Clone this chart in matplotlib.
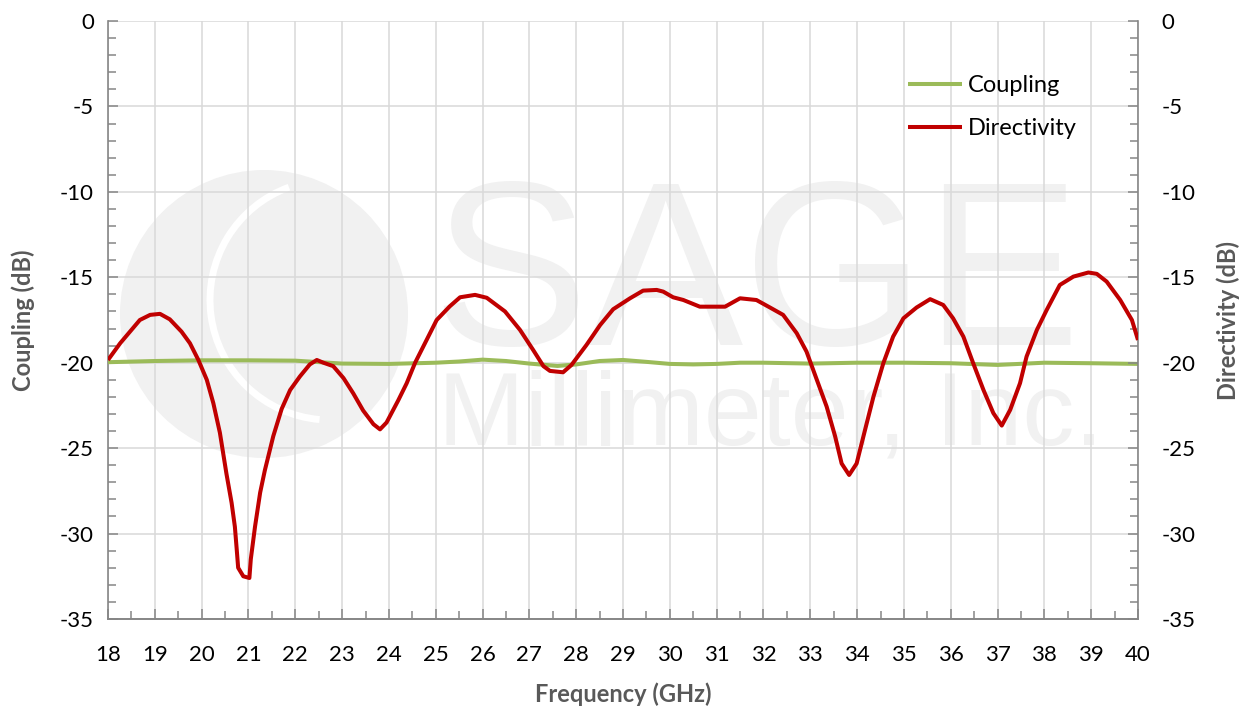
import matplotlib.pyplot as plt
from matplotlib.patches import Ellipse, Arc
from matplotlib.ticker import MultipleLocator

# Directivity trace (GHz, dB)
freq_dir = [18.0, 18.26, 18.47, 18.68, 18.9, 19.11, 19.32, 19.57, 19.75, 19.93,
            20.11, 20.25, 20.39, 20.53, 20.64, 20.71, 20.75, 20.78, 20.89, 21.02,
            21.05, 21.14, 21.25, 21.35, 21.53, 21.71, 21.89, 22.1, 22.31, 22.46,
            22.6, 22.81, 23.03, 23.24, 23.45, 23.67, 23.81, 23.95, 24.2, 24.38,
            24.56, 24.77, 25.02, 25.3, 25.52, 25.84, 26.09, 26.48, 26.8, 27.08,
            27.3, 27.44, 27.72, 27.9, 28.22, 28.51, 28.79, 29.15, 29.43, 29.72,
            29.86, 30.07, 30.29, 30.64, 31.18, 31.5, 31.85, 32.14, 32.42, 32.71,
            32.92, 33.14, 33.35, 33.53, 33.67, 33.83, 33.99, 34.17, 34.35, 34.56,
            34.77, 34.99, 35.27, 35.56, 35.84, 36.05, 36.27, 36.48, 36.7, 36.91,
            37.09, 37.27, 37.48, 37.62, 37.84, 38.05, 38.33, 38.62, 38.94, 39.12,
            39.33, 39.62, 39.87, 40.0]
directivity = [-19.84, -18.86, -18.18, -17.5, -17.2, -17.14, -17.46, -18.18,
               -18.86, -19.84, -21.0, -22.37, -24.1, -26.5, -28.2, -29.6, -30.95,
               -32.0, -32.5, -32.6, -31.5, -29.6, -27.6, -26.3, -24.3, -22.7,
               -21.6, -20.8, -20.1, -19.84, -20.0, -20.2, -20.9, -21.8, -22.8,
               -23.6, -23.9, -23.5, -22.2, -21.2, -20.0, -18.86, -17.5, -16.7,
               -16.17, -16.03, -16.2, -17.0, -18.08, -19.25, -20.2, -20.48,
               -20.56, -20.13, -18.96, -17.8, -16.87, -16.23, -15.78, -15.74,
               -15.84, -16.17, -16.33, -16.72, -16.72, -16.23, -16.33, -16.77,
               -17.2, -18.27, -19.35, -21.0, -22.57, -24.3, -25.9, -26.57, -25.9,
               -23.93, -21.98, -20.03, -18.47, -17.4, -16.77, -16.28, -16.62,
               -17.4, -18.47, -20.03, -21.6, -22.95, -23.68, -22.76, -21.2,
               -19.64, -18.08, -16.91, -15.45, -14.96, -14.72, -14.8, -15.25,
               -16.33, -17.5, -18.67]

# Coupling trace
freq_cpl = [18, 19, 20, 21, 22, 23, 24, 25, 25.5, 26, 26.5, 27, 27.6, 28, 28.5,
            29, 29.5, 30, 30.5, 31, 31.5, 32, 33, 34, 35, 36, 37, 38, 39, 40]
coupling = [-19.97, -19.9, -19.86, -19.86, -19.88, -20.05, -20.07, -20.0,
            -19.93, -19.82, -19.9, -20.05, -20.19, -20.1, -19.9, -19.84, -19.95,
            -20.07, -20.1, -20.07, -20.0, -20.0, -20.05, -20.0, -20.0, -20.03,
            -20.13, -20.0, -20.03, -20.07]

GREEN = "#9BBB59"
RED = "#C00000"
GRAY = "#595959"
GRID = "#D9D9D9"
SPINE = "#868686"
WM = "#F1F1F1"

plt.rcParams['font.family'] = ['Lato', 'DejaVu Sans']
plt.rcParams['axes.unicode_minus'] = False

W, H = 1248, 709
fig = plt.figure(figsize=(W / 100, H / 100), dpi=100)

# background layer for the faint company watermark (pixel coordinates)
bg = fig.add_axes([0, 0, 1, 1], zorder=0)
bg.set_xlim(0, W)
bg.set_ylim(H, 0)
bg.axis("off")
bg.add_patch(Ellipse((264, 314), 288, 288, facecolor=WM, edgecolor="none"))
bg.add_patch(Arc((330, 300), 240, 240, theta1=95, theta2=250,
                 color="white", lw=5))
bg.text(432, 345, "SAGE", fontsize=168, color=WM, family="Liberation Sans",
        ha="left", va="baseline")
bg.text(438, 445, "Millimeter, Inc.", fontsize=75, color=WM,
        family="Liberation Sans", ha="left", va="baseline")

ax = fig.add_axes([108 / W, 1 - 619 / H, 1030 / W, 598 / H], zorder=1)
ax.patch.set_alpha(0)
ax2 = ax.twinx()

ax.plot(freq_cpl, coupling, color=GREEN, lw=2.9, label="Coupling",
        solid_joinstyle="round", solid_capstyle="butt", zorder=3)
ax2.plot(freq_dir, directivity, color=RED, lw=2.9, label="Directivity",
         solid_joinstyle="round", solid_capstyle="butt", zorder=3)

for a in (ax, ax2):
    a.set_xlim(18, 40)
    a.set_ylim(-35, 0)
    a.yaxis.set_major_locator(MultipleLocator(5))
    a.yaxis.set_minor_locator(MultipleLocator(1))
    a.tick_params(axis="both", which="both", direction="in", colors=SPINE,
                  labelcolor="black", labelsize=16)
    a.tick_params(which="major", length=7, width=1.1)
    a.tick_params(which="minor", length=6, width=1.1)
    for s in a.spines.values():
        s.set_color(SPINE)
        s.set_linewidth(1.2)
    a.spines["top"].set_visible(False)

ax.spines["right"].set_visible(False)
ax2.spines["left"].set_visible(False)
ax.xaxis.set_major_locator(MultipleLocator(1))
ax.xaxis.set_minor_locator(MultipleLocator(0.5))
ax.tick_params(axis="x", pad=19)
ax.tick_params(axis="y", pad=10)
ax2.tick_params(axis="y", pad=17)

ax.grid(True, which="major", color=GRID, lw=1.1, zorder=1)
ax.set_axisbelow(True)

ax.set_xlabel("Frequency (GHz)", fontsize=17, fontweight="bold", color=GRAY,
              labelpad=12)
ax.set_ylabel("Coupling (dB)", fontsize=17, fontweight="bold", color=GRAY,
              labelpad=18)
ax2.set_ylabel("Directivity (dB)", fontsize=17, fontweight="bold", color=GRAY,
               labelpad=15)

h1, l1 = ax.get_legend_handles_labels()
h2, l2 = ax2.get_legend_handles_labels()
ax2.legend(h1 + h2, l1 + l2, loc="upper left",
           bbox_to_anchor=(908 / W, 1 - 75 / H), bbox_transform=fig.transFigure,
           frameon=False, fontsize=17, handlelength=2.3, handletextpad=0.25,
           labelspacing=0.95, borderpad=0, borderaxespad=0)

fig.savefig("out.png", dpi=100)
